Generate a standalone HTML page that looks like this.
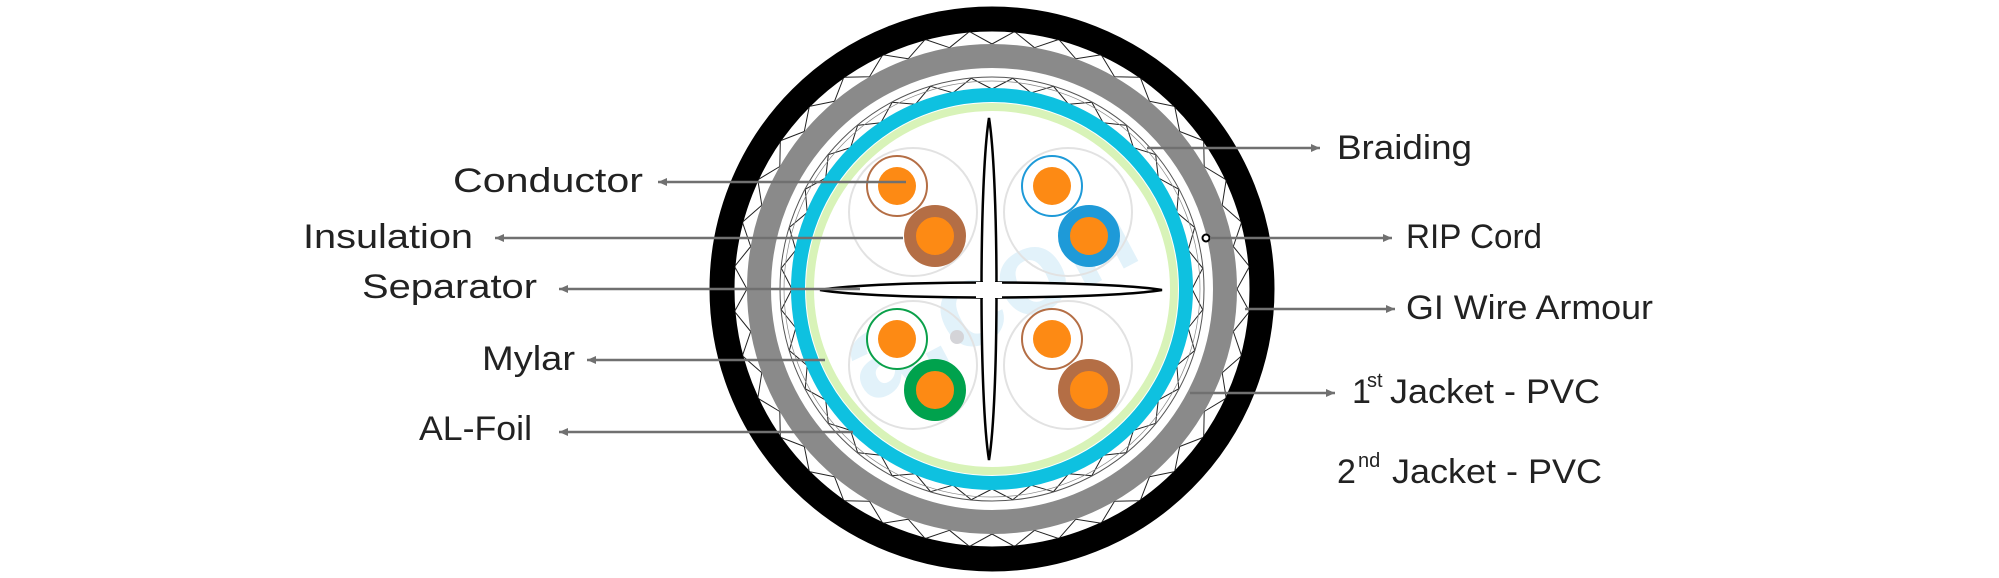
<!DOCTYPE html>
<html><head><meta charset="utf-8">
<style>
html,body{margin:0;padding:0;background:#fff;}
svg{display:block;}
text{font-family:"Liberation Sans",sans-serif;fill:#222;}
</style></head>
<body>
<svg id="s" width="1999" height="578" viewBox="0 0 1999 578" xmlns="http://www.w3.org/2000/svg">
<defs>
<marker id="ar" markerWidth="10" markerHeight="10" refX="9" refY="5" orient="auto" markerUnits="userSpaceOnUse">
<path d="M0,1 L9,5 L0,9 Z" fill="#707070"/>
</marker>
</defs>
<circle cx="992" cy="289" r="270" fill="#fff" stroke="#000" stroke-width="25"/>
<g id="hatch" stroke="#222" stroke-width="1" fill="none"></g>
<circle cx="992" cy="289" r="233" fill="none" stroke="#8a8a8a" stroke-width="24"/>
<circle cx="992" cy="289" r="212" fill="none" stroke="#555" stroke-width="1"/>
<circle cx="992" cy="289" r="208" fill="none" stroke="#888" stroke-width="0.7"/>
<circle cx="992" cy="289" r="194" fill="#fff" stroke="#0ec1e0" stroke-width="14"/>
<circle cx="992" cy="289" r="182" fill="#fff" stroke="#d8f3b8" stroke-width="8"/>
<text x="990" y="335" font-size="120" font-weight="bold" transform="rotate(-28 990 300)" text-anchor="middle" style="fill:#e2f2fa">a.con</text>
<g fill="none" stroke="#e2e2e2" stroke-width="2">
<circle cx="913" cy="212" r="64"/><circle cx="1068" cy="212" r="64"/>
<circle cx="913" cy="365" r="64"/><circle cx="1068" cy="365" r="64"/>
</g>
<circle cx="957" cy="337" r="7" fill="#d4d4d8"/>
<circle cx="897" cy="186" r="30" fill="#fff" stroke="#b46e45" stroke-width="2"/>
<circle cx="897" cy="186" r="19" fill="#fd8a14"/>
<circle cx="935" cy="236" r="25" fill="#fd8a14" stroke="#b46e45" stroke-width="12"/>
<circle cx="1052" cy="186" r="30" fill="#fff" stroke="#1e9ad8" stroke-width="2"/>
<circle cx="1052" cy="186" r="19" fill="#fd8a14"/>
<circle cx="1089" cy="236" r="25" fill="#fd8a14" stroke="#1e9ad8" stroke-width="12"/>
<circle cx="897" cy="339" r="30" fill="#fff" stroke="#0aa04a" stroke-width="2"/>
<circle cx="897" cy="339" r="19" fill="#fd8a14"/>
<circle cx="935" cy="390" r="25" fill="#fd8a14" stroke="#00a24d" stroke-width="12"/>
<circle cx="1052" cy="339" r="30" fill="#fff" stroke="#b46e45" stroke-width="2"/>
<circle cx="1052" cy="339" r="19" fill="#fd8a14"/>
<circle cx="1089" cy="390" r="25" fill="#fd8a14" stroke="#b46e45" stroke-width="12"/>
<g fill="#fff" stroke="#000" stroke-width="2.5">
<path d="M989,118 C999,180 999,400 989,460 C979,400 979,180 989,118 Z"/>
<path d="M820,290 C880,280 1100,280 1162,290 C1100,300 880,300 820,290 Z"/>
</g>
<rect x="976" y="282" width="26" height="16" fill="#fff"/>
<rect x="983" y="276" width="12" height="28" fill="#fff"/>
<circle cx="1206" cy="238" r="3.5" fill="#fff" stroke="#000" stroke-width="2"/>
<g stroke="#707070" stroke-width="2.5" fill="none">
<line x1="906" y1="182" x2="658" y2="182" marker-end="url(#ar)"/>
<line x1="903" y1="238" x2="495" y2="238" marker-end="url(#ar)"/>
<line x1="860" y1="289" x2="559" y2="289" marker-end="url(#ar)"/>
<line x1="825" y1="360" x2="587" y2="360" marker-end="url(#ar)"/>
<line x1="853" y1="432" x2="559" y2="432" marker-end="url(#ar)"/>
<line x1="1147" y1="148" x2="1320" y2="148" marker-end="url(#ar)"/>
<line x1="1210" y1="238" x2="1392" y2="238" marker-end="url(#ar)"/>
<line x1="1245" y1="309" x2="1395" y2="309" marker-end="url(#ar)"/>
<line x1="1190" y1="393" x2="1335" y2="393" marker-end="url(#ar)"/>
</g>
<g font-size="34">
<text x="453" y="192" textLength="190" lengthAdjust="spacingAndGlyphs">Conductor</text>
<text x="303" y="248" textLength="170" lengthAdjust="spacingAndGlyphs">Insulation</text>
<text x="362" y="298" textLength="175" lengthAdjust="spacingAndGlyphs">Separator</text>
<text x="482" y="370" textLength="93" lengthAdjust="spacingAndGlyphs">Mylar</text>
<text x="419" y="440" textLength="113" lengthAdjust="spacingAndGlyphs">AL-Foil</text>
<text x="1337" y="159" textLength="135" lengthAdjust="spacingAndGlyphs">Braiding</text>
<text x="1406" y="248" textLength="136" lengthAdjust="spacingAndGlyphs">RIP Cord</text>
<text x="1406" y="319" textLength="247" lengthAdjust="spacingAndGlyphs">GI Wire Armour</text>
<text x="1352" y="403">1</text>
<text x="1367" y="387" font-size="20">st</text>
<text x="1390" y="403" textLength="210" lengthAdjust="spacingAndGlyphs">Jacket - PVC</text>
<text x="1337" y="483">2</text>
<text x="1358" y="467" font-size="20">nd</text>
<text x="1392" y="483" textLength="210" lengthAdjust="spacingAndGlyphs">Jacket - PVC</text>
</g>
</svg>
<script>
(function(){
var g=document.getElementById('hatch'),cx=992,cy=289,d='';
function ring(r1,r2,n,dl){
 for(var i=0;i<n;i++){
  var a=i*2*Math.PI/n;
  var x1=cx+r1*Math.cos(a),y1=cy+r1*Math.sin(a);
  var b1=a+dl,b2=a-dl;
  d+='M'+x1.toFixed(1)+','+y1.toFixed(1)+'L'+(cx+r2*Math.cos(b1)).toFixed(1)+','+(cy+r2*Math.sin(b1)).toFixed(1);
  d+='M'+x1.toFixed(1)+','+y1.toFixed(1)+'L'+(cx+r2*Math.cos(b2)).toFixed(1)+','+(cy+r2*Math.sin(b2)).toFixed(1);
 }
}
ring(245,258,36,0.085);
ring(200,212,32,0.1);
var p=document.createElementNS('http://www.w3.org/2000/svg','path');
p.setAttribute('d',d);g.appendChild(p);
})();
</script>
</body></html>
